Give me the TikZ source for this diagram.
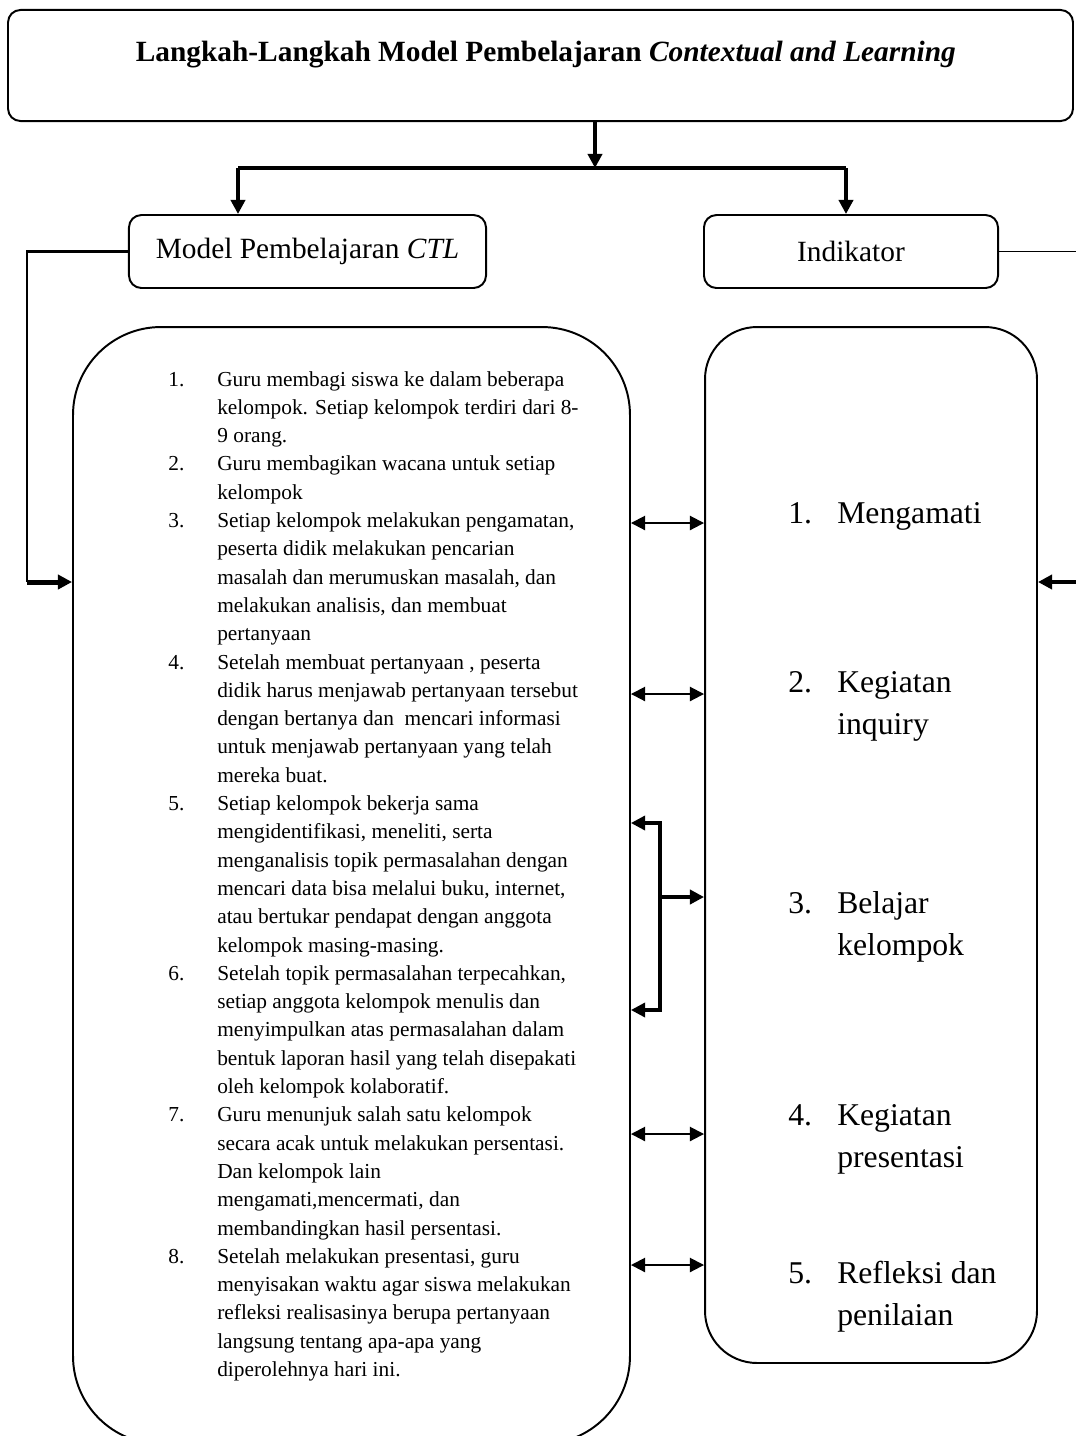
\documentclass[tikz,border=0pt]{standalone}
\usepackage{fontspec}
\setmainfont{Liberation Serif}
\usetikzlibrary{arrows.meta, positioning}

\newcommand{\pointrow}[2]{\begin{tabular}[t]{@{}p{27.5pt}@{}l@{}}#1 & #2\end{tabular}}

\begin{document}
\begin{tikzpicture}[
    x=0.5618pt, y=-0.5618pt,
    box/.style={draw, line width=1.1pt, rounded corners=7pt, align=center, inner sep=0pt},
    bigbox/.style={draw, line width=1.1pt, inner sep=0pt},
    point/.style={anchor=base west, inner sep=0pt, font=\fontsize{17.8}{23.6}\selectfont},
    flow/.style={line width=2.2pt, -{Triangle[length=8pt, width=8pt]}},
    link/.style={line width=1.1pt, {Triangle[length=8pt, width=8pt]}-{Triangle[length=8pt, width=8pt]}},
]
\useasboundingbox (0,0) rectangle (1075,1436);

% Header and the two column heads
\node[box, font=\fontsize{16.5}{20}\selectfont\bfseries, minimum width=598.3pt, minimum height=62.4pt,
      text height=12pt, text depth=17pt] (head) at (540.5,65.5)
      {\hspace*{6pt}Langkah-Langkah Model Pembelajaran \textit{Contextual and Learning}};
\node[box, font=\fontsize{16.5}{20}\selectfont, minimum width=200.6pt, minimum height=41pt] (model) at (307.5,251.5) {Model Pembelajaran \textit{CTL}};
\node[box, font=\fontsize{16.5}{20}\selectfont, minimum width=165.2pt, minimum height=41pt] (indik) at (851,251.5) {Indikator};

% Big boxes
\node[bigbox, rounded corners=49.4pt, minimum width=312.9pt, minimum height=627.5pt] (steps) at (351.5,885.5) {};
\node[bigbox, rounded corners=29.2pt, minimum width=186.5pt, minimum height=582pt] (points) at (871,845) {};

% Left list: steps of the model
\node[anchor=base west, inner sep=0pt, font=\fontsize{12}{15.9}\selectfont] (steplist) at (168,386) {%
\begin{tabular}[t]{@{}p{27.5pt}@{}l@{}}
1. & Guru membagi siswa ke dalam beberapa\\
   & kelompok. Setiap kelompok terdiri dari 8-\\
   & 9 orang.\\
2. & Guru membagikan wacana untuk setiap\\
   & kelompok\\
3. & Setiap kelompok melakukan pengamatan,\\
   & peserta didik melakukan pencarian\\
   & masalah dan merumuskan masalah, dan\\
   & melakukan analisis, dan membuat\\
   & pertanyaan\\
4. & Setelah membuat pertanyaan , peserta\\
   & didik harus menjawab pertanyaan tersebut\\
   & dengan bertanya dan \ mencari informasi\\
   & untuk menjawab pertanyaan yang telah\\
   & mereka buat.\\
5. & Setiap kelompok bekerja sama\\
   & mengidentifikasi, meneliti, serta\\
   & menganalisis topik permasalahan dengan\\
   & mencari data bisa melalui buku, internet,\\
   & atau bertukar pendapat dengan anggota\\
   & kelompok masing-masing.\\
6. & Setelah topik permasalahan terpecahkan,\\
   & setiap anggota kelompok menulis dan\\
   & menyimpulkan atas permasalahan dalam\\
   & bentuk laporan hasil yang telah disepakati\\
   & oleh kelompok kolaboratif.\\
7. & Guru menunjuk salah satu kelompok\\
   & secara acak untuk melakukan persentasi.\\
   & Dan kelompok lain\\
   & mengamati,mencermati, dan\\
   & membandingkan hasil persentasi.\\
8. & Setelah melakukan presentasi, guru\\
   & menyisakan waktu agar siswa melakukan\\
   & refleksi realisasinya berupa pertanyaan\\
   & langsung tentang apa-apa yang\\
   & diperolehnya hari ini.
\end{tabular}};

% Right list: indicators
\node[point] (p1) at (788,523) {\pointrow{1.}{Mengamati}};
\node[point] (p2) at (788,692) {\pointrow{2.}{Kegiatan\\ & inquiry}};
\node[point] (p3) at (788,913) {\pointrow{3.}{Belajar\\ & kelompok}};
\node[point] (p4) at (788,1125) {\pointrow{4.}{Kegiatan\\ & presentasi}};
\node[point] (p5) at (788,1283) {\pointrow{5.}{Refleksi dan\\ & penilaian}};

% Fork from the header
\coordinate (split) at (595,168);
\coordinate (forkL) at (238,168);
\coordinate (forkR) at (846,168);
\draw[flow, line width=2.6pt] (head.south -| split) -- (split);
\draw[line width=1.7pt] (forkL) -- (forkR);
\draw[flow] (forkL) -- (forkL |- model.north);
\draw[flow] (forkR) -- (forkR |- indik.north);

% Side loops
\coordinate (loopL) at (27,582);
\coordinate (loopR) at (1080,582);
\draw[line width=1.4pt] (model.west) -| (loopL);
\draw[flow, line width=2.8pt] (loopL) -- (loopL -| steps.west);
\draw[line width=1.1pt] (indik.east) -| (loopR);
\draw[flow] (loopR) -- (loopR -| points.east);

% Links between the two boxes
\foreach \y in {523,694,1134,1265}
  \draw[link] (steps.east |- 0,\y) -- (points.west |- 0,\y);
\coordinate (brk) at (660,897);
\draw[link, line width=1.8pt] (steps.east |- 0,823) -| (brk |- 0,1010) -- (steps.east |- 0,1010);
\draw[flow, line width=2.6pt] (brk) -- (brk -| points.west);

\end{tikzpicture}
\end{document}
